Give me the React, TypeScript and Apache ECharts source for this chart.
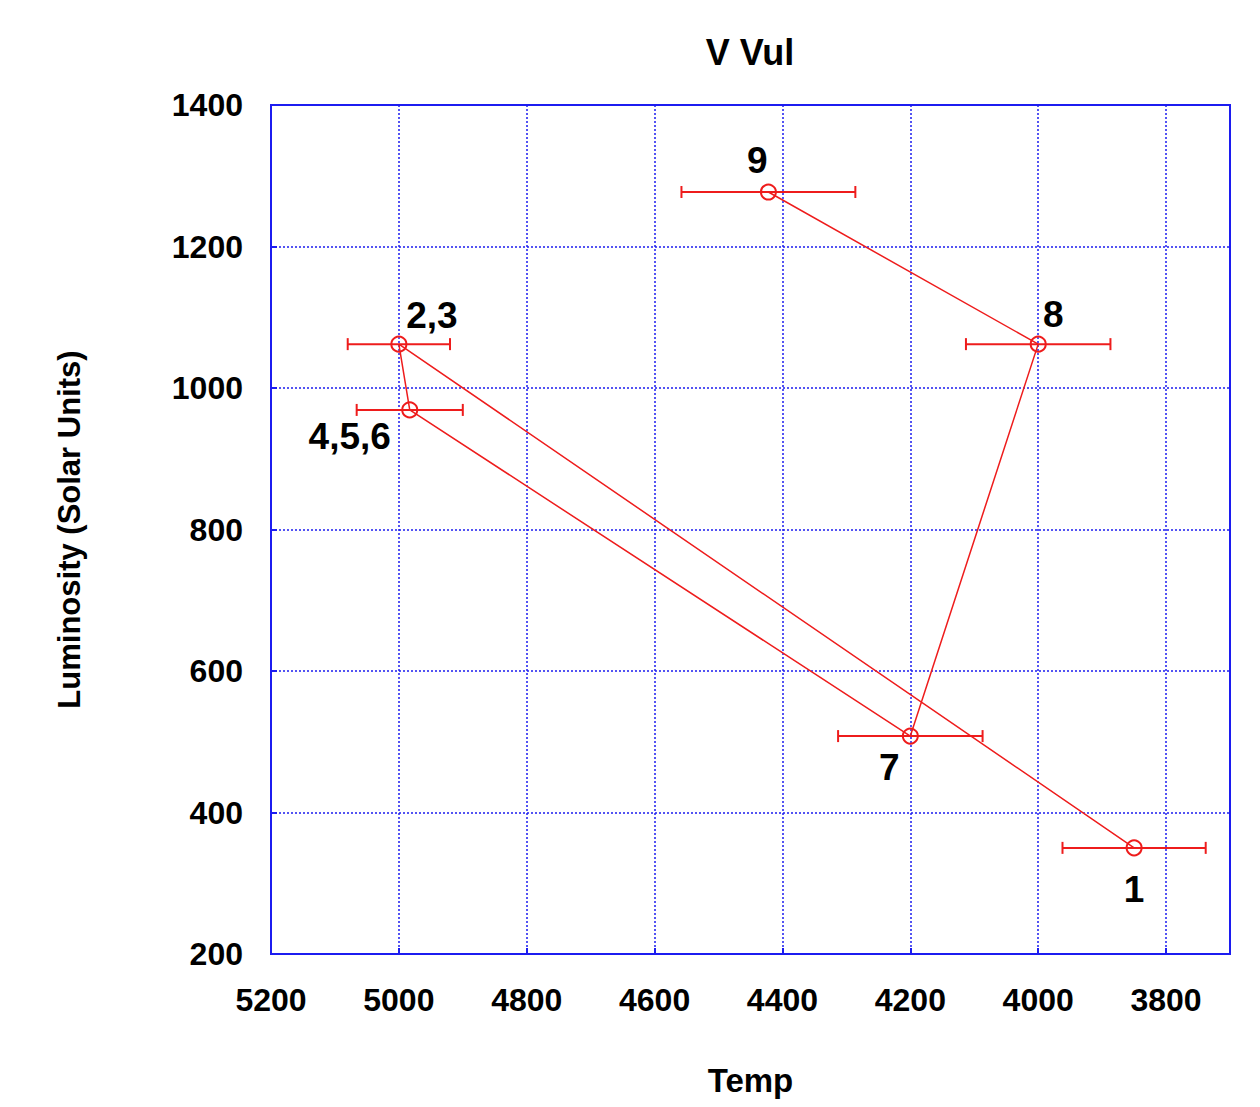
import React, { useEffect, useRef } from "react";
import * as echarts from "echarts";

// Data (temperature K, luminosity in solar units), in the order the path connects them
const pointNames = ["1", "2,3", "4,5,6", "7", "8", "9"];
const temps = [3850, 5000, 4983, 4200, 4000, 4422];
const lums = [350, 1062, 969, 508, 1062, 1277];
const tempErrs = [112, 80, 83, 113, 113, 136];

// Axis settings
const xTicksMin = 3700;
const xTicksMax = 5200;
const yMin = 200;
const yMax = 1400;
const tickStep = 200;

// label offsets relative to the point (layout only)
const labelOffsets: [number, number][] = [
  [0, 42],
  [33, -29],
  [-60, 27],
  [-21, 31],
  [15, -30],
  [-11, -32],
];

const RED = "#ee1c1c";
const BLUE = "#1c1cf0";
const FONT = "'Liberation Sans', Arial, sans-serif";

export default function App() {
  const ref = useRef<HTMLDivElement>(null);
  useEffect(() => {
    if (!ref.current) return;
    const chart = echarts.init(ref.current, undefined, { renderer: "svg" });

    const lineData = temps.map((t, i) => ({
      value: [-t, lums[i]],
      label: {
        show: true,
        formatter: pointNames[i],
        position: "inside",
        offset: labelOffsets[i],
        color: "#000",
        fontSize: 37,
        fontWeight: "bold",
        fontFamily: FONT,
      },
    }));

    const errData = temps.map((t, i) => [-(t + tempErrs[i]), -(t - tempErrs[i]), lums[i]]);

    chart.setOption({
      animation: false,
      backgroundColor: "#ffffff",
      graphic: [
        {
          type: "text",
          x: 750,
          y: 52,
          style: {
            text: "V Vul",
            fill: "#000",
            font: `bold 36px ${FONT}`,
            textAlign: "center",
            textVerticalAlign: "middle",
          },
        },
      ],
      grid: {
        left: 271,
        top: 105,
        width: 959,
        height: 849,
        show: true,
        borderColor: BLUE,
        borderWidth: 2,
        backgroundColor: "transparent",
      },
      xAxis: {
        type: "value",
        min: -xTicksMax,
        max: -xTicksMin,
        interval: tickStep,
        name: "Temp",
        nameLocation: "middle",
        nameGap: 110,
        nameTextStyle: { fontSize: 33, fontWeight: "bold", color: "#000", fontFamily: FONT },
        axisLine: { show: true, lineStyle: { color: BLUE, width: 2 } },
        axisTick: { show: true, inside: true, length: 6, lineStyle: { color: BLUE, width: 2 } },
        axisLabel: {
          formatter: (v: number) => (v === -xTicksMin ? "" : String(-v)),
          fontSize: 32,
          fontWeight: "bold",
          color: "#000",
          fontFamily: FONT,
          margin: 30,
          showMaxLabel: false,
        },
        splitLine: { show: true, lineStyle: { color: BLUE, width: 1.5, type: [2, 2] } },
      },
      yAxis: {
        type: "value",
        min: yMin,
        max: yMax,
        interval: tickStep,
        name: "Luminosity (Solar Units)",
        nameLocation: "middle",
        nameGap: 186,
        nameTextStyle: { fontSize: 31, fontWeight: "bold", color: "#000", fontFamily: FONT },
        axisLine: { show: true, lineStyle: { color: BLUE, width: 2 } },
        axisTick: { show: true, inside: true, length: 6, lineStyle: { color: BLUE, width: 2 } },
        axisLabel: {
          formatter: (v: number) => String(v),
          fontSize: 32,
          fontWeight: "bold",
          color: "#000",
          fontFamily: FONT,
          margin: 28,
        },
        splitLine: { show: true, lineStyle: { color: BLUE, width: 1.5, type: [2, 2] } },
      },
      series: [
        {
          type: "custom",
          data: errData,
          z: 3,
          renderItem: (params: any, api: any) => {
            const lo = api.coord([api.value(0), api.value(2)]);
            const hi = api.coord([api.value(1), api.value(2)]);
            const cap = 6;
            const style = { stroke: RED, lineWidth: 2, fill: "none" };
            return {
              type: "group",
              children: [
                { type: "line", shape: { x1: lo[0], y1: lo[1], x2: hi[0], y2: hi[1] }, style },
                { type: "line", shape: { x1: lo[0], y1: lo[1] - cap, x2: lo[0], y2: lo[1] + cap }, style },
                { type: "line", shape: { x1: hi[0], y1: hi[1] - cap, x2: hi[0], y2: hi[1] + cap }, style },
              ],
            };
          },
        },
        {
          type: "line",
          data: lineData,
          z: 4,
          symbol: "circle",
          symbolSize: 15,
          showAllSymbol: true,
          lineStyle: { color: RED, width: 1.5 },
          itemStyle: { color: "rgba(255,255,255,0)", borderColor: RED, borderWidth: 2 },
        },
      ],
    });
    return () => chart.dispose();
  }, []);
  return (
    <div
      ref={ref}
      style={{ position: "fixed", left: 0, top: 0, width: 1260, height: 1107, background: "#fff" }}
    />
  );
}
